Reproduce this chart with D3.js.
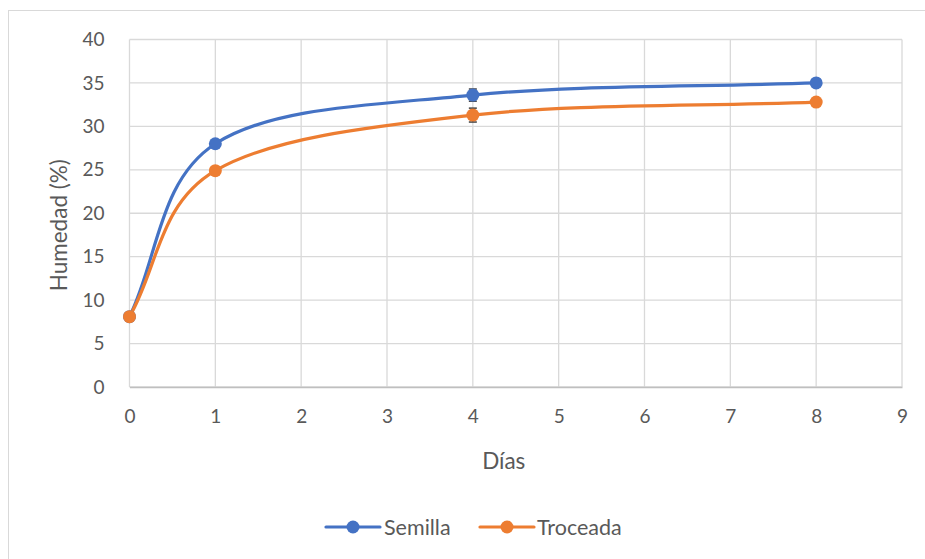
<!DOCTYPE html>
<html><head><meta charset="utf-8">
<script src="https://cdn.jsdelivr.net/npm/d3@7"></script>
<style>body{margin:0;background:#fff}svg{display:block}</style>
</head><body>
<svg id="c" width="925" height="559"></svg>
<script>
const days = [0, 1, 4, 8];
const semilla = [8.1, 28.0, 33.6, 35.0];
const troceada = [8.1, 24.9, 31.3, 32.8];
const semillaErr = [0, 0, 0.7, 0];
const troceadaErr = [0, 0, 0.8, 0];
const xTicks = [0,1,2,3,4,5,6,7,8,9];
const yTicks = [0,5,10,15,20,25,30,35,40];
const seriesNames = ["Semilla", "Troceada"];
const colors = ["#4472C4", "#ED7D31"];

// Excel-like smoothing curve (Bezier, 1/6 tangents, reflected endpoints)
function ExcelCurve(context){ this._context = context; }
ExcelCurve.prototype = {
  areaStart(){}, areaEnd(){},
  lineStart(){ this._pts = []; },
  point(x,y){ this._pts.push([+x,+y]); },
  lineEnd(){
    const p = this._pts, n = p.length, c = this._context;
    if(!n) return;
    c.moveTo(p[0][0],p[0][1]);
    if(n===1) return;
    const get = i => {
      if(i<0) return [2*p[0][0]-p[1][0], 2*p[0][1]-p[1][1]];
      if(i>=n) return [2*p[n-1][0]-p[n-2][0], 2*p[n-1][1]-p[n-2][1]];
      return p[i];
    };
    for(let i=0;i<n-1;i++){
      const a=get(i-1), b=p[i], d=p[i+1], e=get(i+2);
      c.bezierCurveTo(b[0]+(d[0]-a[0])/6, b[1]+(d[1]-a[1])/6,
                      d[0]-(e[0]-b[0])/6, d[1]-(e[1]-b[1])/6, d[0], d[1]);
    }
  }
};
const curveExcel = ctx => new ExcelCurve(ctx);

const svg = d3.select("#c");
const font = "Lato, 'Open Sans', sans-serif";
svg.append("rect").attr("x",8.5).attr("y",10.5).attr("width",940).attr("height",560)
  .attr("fill","#fff").attr("stroke","#d9d9d9");

const x = d3.scaleLinear().domain([0,9]).range([129.5,902]);
const y = d3.scaleLinear().domain([0,40]).range([387,39.5]);

const g = svg.append("g");
g.selectAll(".vg").data(xTicks).join("line")
  .attr("x1",d=>x(d)).attr("x2",d=>x(d)).attr("y1",y(0)).attr("y2",y(40))
  .attr("stroke","#d9d9d9").attr("stroke-width",1.3);
g.selectAll(".hg").data(yTicks).join("line")
  .attr("x1",x(0)).attr("x2",x(9)).attr("y1",d=>y(d)).attr("y2",d=>y(d))
  .attr("stroke","#d9d9d9").attr("stroke-width",1.3);

const xAxis = d3.axisBottom(x).tickValues(xTicks).tickSize(0).tickPadding(23);
const ax = svg.append("g").attr("transform",`translate(0,${y(0)})`).call(xAxis);
ax.select(".domain").attr("stroke","#bfbfbf").attr("stroke-width",1.5);
ax.selectAll("text").attr("font-family",font).attr("font-size",19).attr("fill","#595959");
const yAxis = d3.axisLeft(y).tickValues(yTicks).tickSize(0).tickPadding(25);
const ay = svg.append("g").attr("transform",`translate(${x(0)},0)`).call(yAxis);
ay.select(".domain").remove();
ay.selectAll("text").attr("font-family",font).attr("font-size",19).attr("fill","#595959");

svg.append("text").attr("x",(x(0)+x(9))/2-12).attr("y",469).attr("text-anchor","middle")
  .attr("font-family",font).attr("font-size",22.5).attr("fill","#595959").text("Días");
svg.append("text").attr("transform",`translate(67,${(y(0)+y(40))/2+12}) rotate(-90)`).attr("text-anchor","middle")
  .attr("font-family",font).attr("font-size",22.5).attr("fill","#595959").text("Humedad (%)");

const data = [semilla, troceada];
const errs = [semillaErr, troceadaErr];
const line = d3.line().x((d,i)=>x(days[i])).y(d=>y(d)).curve(curveExcel);
data.forEach((s,k)=>{
  svg.append("path").datum(s).attr("d",line).attr("fill","none")
    .attr("stroke",colors[k]).attr("stroke-width",3.2).attr("stroke-linecap","round");
});
data.forEach((s,k)=>{
  const eg = svg.append("g");
  s.forEach((v,i)=>{
    const e = errs[k][i];
    if(e>0){
      eg.append("line").attr("x1",x(days[i])).attr("x2",x(days[i])).attr("y1",y(v+e)).attr("y2",y(v-e)).attr("stroke","#404040").attr("stroke-width",1);
      [v+e,v-e].forEach(t=>eg.append("line").attr("x1",x(days[i])-4).attr("x2",x(days[i])+4).attr("y1",y(t)).attr("y2",y(t)).attr("stroke","#404040").attr("stroke-width",1.5));
    }
  });
  svg.append("g").selectAll("circle").data(s).join("circle")
    .attr("cx",(d,i)=>x(days[i])).attr("cy",d=>y(d)).attr("r",6.5).attr("fill",colors[k]);
});

const leg = [{x:326, tx:384},{x:480, tx:537}];
seriesNames.forEach((n,k)=>{
  const L = leg[k], ly = 527;
  svg.append("line").attr("x1",L.x).attr("x2",L.x+54).attr("y1",ly).attr("y2",ly)
    .attr("stroke",colors[k]).attr("stroke-width",3.2).attr("stroke-linecap","round");
  svg.append("circle").attr("cx",L.x+27).attr("cy",ly).attr("r",6.5).attr("fill",colors[k]);
  svg.append("text").attr("x",L.tx).attr("y",ly).attr("dy","0.35em")
    .attr("font-family",font).attr("font-size",21.5).attr("fill","#595959").text(n);
});
</script>
</body></html>
